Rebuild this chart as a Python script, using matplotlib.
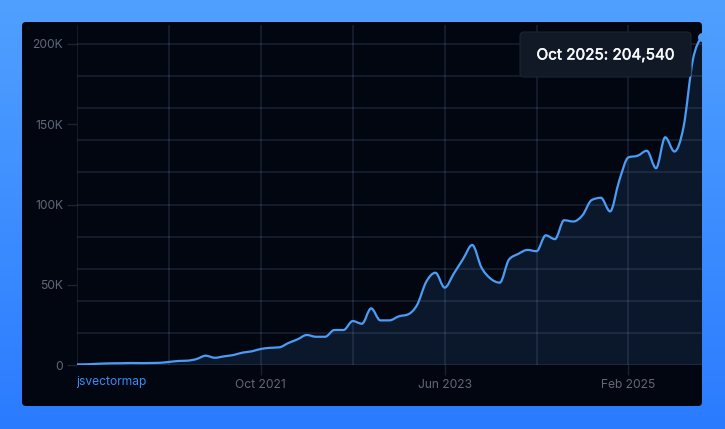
import numpy as np
import matplotlib
matplotlib.use('Agg')
import matplotlib.pyplot as plt
import matplotlib.patheffects as pe
from matplotlib.patches import FancyBboxPatch, PathPatch
from matplotlib.path import Path
from matplotlib.colors import LinearSegmentedColormap

plt.rcParams['font.family'] = ['Inter', 'DejaVu Sans']

# monthly values, Feb 2020 to Oct 2025
months = np.arange(69)
stars = [370, 440, 690, 930, 1060, 1120, 1250, 1180, 1250, 1370,
         1900, 2500, 2700, 3700, 5800, 4500, 5400, 6200, 7700, 8500,
         10000, 10700, 11000, 13700, 16000, 18700, 17600, 17600, 21800, 21800,
         27400, 25700, 35300, 27800, 27800, 30300, 31500, 37400, 51900, 57500,
         48200, 57000, 66000, 74800, 60800, 53800, 51300, 65700, 69200, 71700,
         70900, 80800, 78400, 90200, 89400, 93300, 102800, 104200, 95700, 115000,
         129400, 130400, 133500, 122600, 141900, 133000, 148500, 190000, 204540]
y_ticks = [0, 50000, 100000, 150000, 200000]
y_labels = ['0', '50K', '100K', '150K', '200K']
y_grid = [0, 20000, 40000, 60000, 80000, 100000, 120000, 140000, 160000, 180000, 200000]
x_ticks = [20, 40, 60]
x_labels = ['Oct 2021', 'Jun 2023', 'Feb 2025']
x_grid = [0, 10, 20, 30, 40, 50, 60]
tooltip = 'Oct 2025: 204,540'
repo_name = 'jsvectormap'

W, H = 725, 429
LINE = '#4a9cf5'
GRID = '#8fb0e0'
TICK_MARK = '#1a2332'
TICK = '#5f6878'


def px_axes(fig, left, top, right, bottom, **kw):
    return fig.add_axes([left / W, 1 - bottom / H, (right - left) / W, (bottom - top) / H], **kw)


def monotone_path(x, y):
    # monotone cubic through the points, flat at local peaks
    x, y = np.asarray(x, float), np.asarray(y, float)
    h = np.diff(x)
    s = np.diff(y) / h
    m = np.zeros(len(x))
    for i in range(1, len(x) - 1):
        p = (s[i - 1] * h[i] + s[i] * h[i - 1]) / (h[i - 1] + h[i])
        m[i] = (np.sign(s[i - 1]) + np.sign(s[i])) * min(abs(s[i - 1]), abs(s[i]), 0.5 * abs(p))
    m[0] = (3 * s[0] - m[1]) / 2
    m[-1] = (3 * s[-1] - m[-2]) / 2
    verts = [(x[0], y[0])]
    codes = [Path.MOVETO]
    for i in range(len(x) - 1):
        verts.append((x[i] + h[i] / 3, y[i] + m[i] * h[i] / 3))
        verts.append((x[i + 1] - h[i] / 3, y[i + 1] - m[i + 1] * h[i] / 3))
        verts.append((x[i + 1], y[i + 1]))
        codes += [Path.CURVE4] * 3
    return verts, codes


fig = plt.figure(figsize=(W / 100, H / 100), dpi=100)

# page background and card
bg = fig.add_axes([0, 0, 1, 1])
cmap = LinearSegmentedColormap.from_list('page', ['#50a0ff', '#2b7bff'])
bg.imshow(np.linspace(0, 1, 256).reshape(-1, 1), cmap=cmap, aspect='auto', extent=[0, W, H, 0])
bg.set_xlim(0, W)
bg.set_ylim(H, 0)
bg.axis('off')
bg.add_patch(FancyBboxPatch((26, 26), 672, 376, boxstyle='round,pad=4,rounding_size=4',
                            fc='#020611', ec='none'))

# chart
ax = px_axes(fig, 77, 25, 702, 365)
ax.patch.set_alpha(0)
y_per_px = 200000 / 321
ax.set_xlim(0, 68)
ax.set_ylim(0, (365 - 25) * y_per_px)

ax.xaxis.remove_overlapping_locs = False
ax.yaxis.remove_overlapping_locs = False
ax.set_yticks(y_ticks, y_labels)
ax.set_yticks(y_grid, minor=True)
ax.set_xticks(x_ticks, x_labels)
ax.set_xticks(x_grid, minor=True)
ax.tick_params(axis='both', which='major', length=7, width=1, color=TICK_MARK, labelcolor=TICK,
               labelsize=8.7, pad=3)
ax.tick_params(axis='both', which='minor', length=0)
ax.grid(True, axis='y', which='minor', color=GRID, alpha=0.15, lw=1.2, zorder=3)
ax.grid(True, axis='x', which='minor', color=GRID, alpha=0.15, lw=1.2, zorder=3)
ax.set_axisbelow(False)
for s in ax.spines.values():
    s.set_visible(False)

verts, codes = monotone_path(months, stars)
area_verts = verts + [(months[-1], 0), (months[0], 0), (months[0], 0)]
area_codes = codes + [Path.LINETO, Path.LINETO, Path.CLOSEPOLY]
ax.add_patch(PathPatch(Path(area_verts, area_codes), fc='#0b172a', ec='none', zorder=2))
ax.add_patch(PathPatch(Path(verts, codes), fc='none', ec=LINE, lw=1.6, zorder=4,
                       capstyle='round', joinstyle='round'))
ax.plot(months[-1], stars[-1], 'o', ms=6.5, color=LINE, mec='none', clip_on=False, zorder=5)

# overlay for tooltip and name
top = fig.add_axes([0, 0, 1, 1])
top.set_xlim(0, W)
top.set_ylim(H, 0)
top.axis('off')
top.patch.set_alpha(0)
top.add_patch(FancyBboxPatch((524, 36), 163, 37, boxstyle='round,pad=4,rounding_size=4',
                             fc='#111927', ec='#1c2534', lw=0.8))
top.text(605.5, 55, tooltip, color='#f9fafb', fontsize=11, ha='center', va='center',
         path_effects=[pe.withStroke(linewidth=0.35, foreground='#f9fafb')])
top.text(76, 381.5, repo_name, color='#3b8bf5', fontsize=8.7, ha='left', va='center')

fig.savefig('out.png', dpi=100)
